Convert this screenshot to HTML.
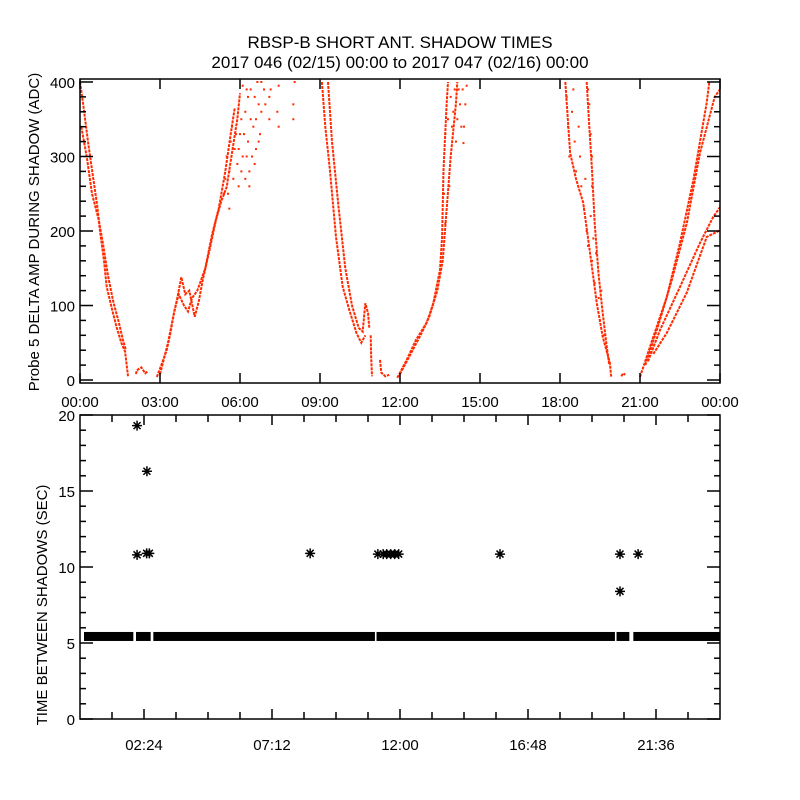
<!DOCTYPE html>
<html><head><meta charset="utf-8"><style>
body{margin:0;background:#fff}
svg{display:block;font-family:"Liberation Sans",sans-serif}
</style></head><body>
<svg id="c" width="800" height="800" viewBox="0 0 800 800">
<rect width="800" height="800" fill="#fff"/>
<text x="400" y="48" font-size="17" text-anchor="middle">RBSP-B SHORT ANT. SHADOW TIMES</text>
<text x="400" y="68" font-size="17" text-anchor="middle">2017 046 (02/15) 00:00 to 2017 047 (02/16) 00:00</text>
<text transform="translate(39,232) rotate(-90)" font-size="15" text-anchor="middle">Probe 5 DELTA AMP DURING SHADOW (ADC)</text>
<text transform="translate(47,605) rotate(-90)" font-size="15" text-anchor="middle">TIME BETWEEN SHADOWS (SEC)</text>
<g id="topPanel"></g>
<g id="botPanel"></g>
</svg>
<script>
// ---- Top panel data (hours, ADC) ----
const topXTicks = [0,3,6,9,12,15,18,21,24];
const topXLabels = ["00:00","03:00","06:00","09:00","12:00","15:00","18:00","21:00","00:00"];
const topYTicks = [0,100,200,300,400];
const traceA1 = [[0,400],[0.1,375],[0.3,320],[0.5,270],[0.64,235],[0.75,200],[0.9,160],[1.0,125],[1.2,95],[1.38,70],[1.55,50],[1.69,38],[1.8,5]];
const traceA2 = [[0.05,340],[0.25,300],[0.45,250],[0.7,215],[0.85,185],[1.05,140],[1.25,105],[1.45,78],[1.6,55],[1.72,40]];
const blob1 = [[2.1,8],[2.13,13],[2.3,17],[2.45,9],[2.55,12]];
const traceB1 = [[2.88,4],[3.05,20],[3.25,40],[3.4,65],[3.5,85],[3.65,110],[3.8,138],[3.95,115],[4.1,120],[4.3,85],[4.45,105],[4.6,134],[4.88,178],[5.1,215],[5.3,240],[5.5,259],[5.7,305],[5.9,350],[6.0,385]];
const traceB2 = [[3.0,8],[3.3,50],[3.55,95],[3.7,115],[3.9,100],[4.05,92],[4.2,110],[4.4,120],[4.7,150],[4.95,195],[5.2,230],[5.45,280],[5.65,330],[5.8,365]];
const cloudB = [[5.5,300],[5.6,280],[5.7,340],[5.8,310],[5.9,290],[6.0,330],[6.1,300],[6.2,360],[6.3,320],[6.35,280],[6.4,390],[6.5,340],[6.6,310],[6.7,370],[6.75,330],[6.8,400],[6.1,395],[6.3,380],[5.95,260],[6.2,270],[7.1,380],[7.1,350],[7.15,390],[7.4,360],[7.45,340],[7.45,395],[8.0,370],[8.0,350],[8.05,400],[5.55,250],[5.65,320],[5.75,270],[5.85,330],[5.95,310],[6.05,350],[6.15,330],[6.25,300],[6.25,390],[6.4,350],[6.45,300],[6.55,380],[6.6,350],[6.65,400],[6.7,320],[6.8,360],[6.05,280],[6.35,260],[6.55,290],[5.6,230],[5.4,250],[5.45,270],[6.9,390],[6.95,370]];
const traceC1 = [[9.07,400],[9.2,340],[9.37,282],[9.6,192],[9.85,125],[10.1,94],[10.37,63],[10.55,50],[10.7,60]];
const traceC2 = [[9.3,400],[9.45,320],[9.7,230],[9.95,150],[10.2,100],[10.45,70],[10.6,65],[10.7,103],[10.8,90],[10.85,70]];
const drop1 = [[10.9,60],[10.92,30],[10.95,5]];
const blob2 = [[11.25,27],[11.3,10],[11.45,5],[11.6,7]];
const traceD1 = [[11.9,3],[12.25,27],[12.6,54],[13.0,77],[13.25,103],[13.5,148],[13.58,192],[13.63,282],[13.75,372],[13.8,400]];
const traceD2 = [[12.0,8],[12.4,35],[12.8,62],[13.1,85],[13.4,120],[13.6,160],[13.75,230],[13.9,300],[14.1,372],[14.15,400]];
const cloudD = [[13.7,330],[13.8,350],[13.9,380],[14.0,360],[14.1,320],[14.2,390],[14.3,340],[14.38,318],[14.45,370],[14.5,395],[13.65,250],[13.7,210],[13.85,260],[13.95,340],[14.05,390],[14.15,350],[14.25,370],[14.35,390],[14.4,340]];
const cloudE = [[18.25,380],[18.3,340],[18.35,300],[18.45,360],[18.5,390],[18.55,320],[18.6,280],[18.7,340],[18.75,300],[18.8,260],[18.9,230],[19.0,200],[19.05,180],[19.15,220],[19.2,160],[19.3,130],[19.35,170],[19.45,110],[19.5,80],[19.55,120],[19.65,60],[19.1,370],[19.15,330],[19.2,300],[19.2,260],[19.05,390],[18.95,270],[19.25,190]];
const traceE1 = [[18.2,400],[18.38,305],[18.6,270],[18.87,238],[19.13,170],[19.38,103],[19.6,58],[19.87,23],[19.92,4]];
const traceE2 = [[19.0,400],[19.1,340],[19.2,282],[19.3,210],[19.45,140],[19.6,90],[19.75,45],[19.85,20]];
const blob3 = [[20.3,5],[20.37,9],[20.45,7]];
const traceF1 = [[21.0,4],[21.5,58],[22.0,111],[22.5,184],[23.0,268],[23.5,372],[23.6,400]];
const traceF2 = [[21.2,20],[21.7,75],[22.2,135],[22.76,211],[23.25,305],[23.8,380],[24,390]];
const traceF3 = [[21.3,25],[21.75,67],[22.5,125],[23.25,184],[23.75,219],[24,232]];
const traceF4 = [[21.5,35],[22.0,63],[22.75,117],[23.5,192],[24,201]];
const topSeries = [traceA1,traceA2,traceB1,traceB2,traceC1,traceC2,drop1,traceD1,traceD2,traceE1,traceE2,traceF1,traceF2,traceF3,traceF4,blob1,blob2,blob3];
const topClouds = [cloudB,cloudD,cloudE];

// ---- Bottom panel data (hours, seconds) ----
const botXTicks = [2.4,7.2,12,16.8,21.6];
const botXLabels = ["02:24","07:12","12:00","16:48","21:36"];
const botYTicks = [0,5,10,15,20];
const baseRuns = [[0.15,2.0,5.43],[2.1,2.65,5.43],[2.75,11.06,5.43],[11.12,20.06,5.43],[20.12,20.6,5.43],[20.75,24,5.43]];
const outliers = [[2.14,19.3],[2.51,16.3],[2.14,10.8],[2.5,10.9],[2.6,10.9],[8.63,10.9],[11.17,10.85],[11.37,10.85],[11.5,10.85],[11.65,10.85],[11.8,10.85],[11.95,10.85],[15.75,10.85],[20.25,10.85],[20.25,8.4],[20.93,10.85]];

const NS="http://www.w3.org/2000/svg";
function mk(tag,attrs,parent){const e=document.createElementNS(NS,tag);for(const k in attrs)e.setAttribute(k,attrs[k]);parent.appendChild(e);return e;}
const L=80,R=720;
const xs=h=>L+h/24*(R-L);
const T0=79,T1=383, yt=v=>T1-(v+4)/408*(T1-T0);
const B0=415,B1=719, yb=v=>B1-v/20*(B1-B0);

const topG=document.getElementById('topPanel'), botG=document.getElementById('botPanel');
const red="#ff2a00";
topSeries.forEach(s=>{
  const p=mk('polyline',{points:s.map(d=>xs(d[0]).toFixed(1)+','+yt(d[1]).toFixed(1)).join(' '),fill:'none',stroke:red,'stroke-width':2,'stroke-dasharray':'3 1'},topG);
  
  
});
topClouds.forEach(c=>c.forEach(d=>{
  const r=mk('rect',{x:xs(d[0])-1,y:yt(d[1])-1,width:2,height:2,fill:red},topG);
  
  
}));
function axes(g,y0,y1,xt,xl,yticks,ymap,yminor,xminor,labelY){
  const f=mk('rect',{x:L,y:y0,width:R-L,height:y1-y0,fill:'none',stroke:'#000','stroke-width':1.5},g);
  
  
  xt.forEach((t,i)=>{
    const x=xs(t);
    mk('line',{x1:x,y1:y1,x2:x,y2:y1-10,stroke:'#000','stroke-width':1.5},g);
    mk('line',{x1:x,y1:y0,x2:x,y2:y0+10,stroke:'#000','stroke-width':1.5},g);
    const tx=mk('text',{x:x,y:labelY,'font-size':15,'text-anchor':'middle'},g);
    tx.textContent=xl[i];
    
    
  });
  xminor.forEach(t=>{const x=xs(t);
    mk('line',{x1:x,y1:y1,x2:x,y2:y1-7,stroke:'#000','stroke-width':1.5},g);
    mk('line',{x1:x,y1:y0,x2:x,y2:y0+7,stroke:'#000','stroke-width':1.5},g);});
  yticks.forEach(v=>{
    const y=ymap(v);
    mk('line',{x1:L,y1:y,x2:L+13,y2:y,stroke:'#000','stroke-width':1.5},g);
    mk('line',{x1:R,y1:y,x2:R-13,y2:y,stroke:'#000','stroke-width':1.5},g);
    const tx=mk('text',{x:L-5,y:y+6,'font-size':15,'text-anchor':'end'},g);
    tx.textContent=v;
    
    
  });
  yminor.forEach(v=>{const y=ymap(v);
    mk('line',{x1:L,y1:y,x2:L+6,y2:y,stroke:'#000','stroke-width':1.5},g);
    mk('line',{x1:R,y1:y,x2:R-6,y2:y,stroke:'#000','stroke-width':1.5},g);});
}
const tMinor=[];for(let v=20;v<400;v+=20)if(v%100)tMinor.push(v);
axes(topG,T0,T1,topXTicks,topXLabels,topYTicks,yt,tMinor,[],407);
const bMinor=[];for(let v=1;v<20;v++)if(v%5)bMinor.push(v);
const bxMinor=[];for(let m=72;m<1440;m+=72)if(m%288!==144)bxMinor.push(m/60);
axes(botG,B0,B1,botXTicks,botXLabels,botYTicks,yb,bMinor,bxMinor,750);

baseRuns.forEach(r=>{
  const b=mk('rect',{x:xs(r[0]),y:yb(r[2])-4.5,width:xs(r[1])-xs(r[0]),height:9,fill:'#000'},botG);
  
  
});
outliers.forEach(d=>{
  const cx=xs(d[0]), cy=yb(d[1]), s=5;
  const p=mk('path',{d:`M${cx-s},${cy}H${cx+s}M${cx},${cy-s}V${cy+s}M${cx-3.5},${cy-3.5}L${cx+3.5},${cy+3.5}M${cx-3.5},${cy+3.5}L${cx+3.5},${cy-3.5}`,stroke:'#000','stroke-width':1.5,fill:'none'},botG);
  
  
});
</script>
</body></html>
